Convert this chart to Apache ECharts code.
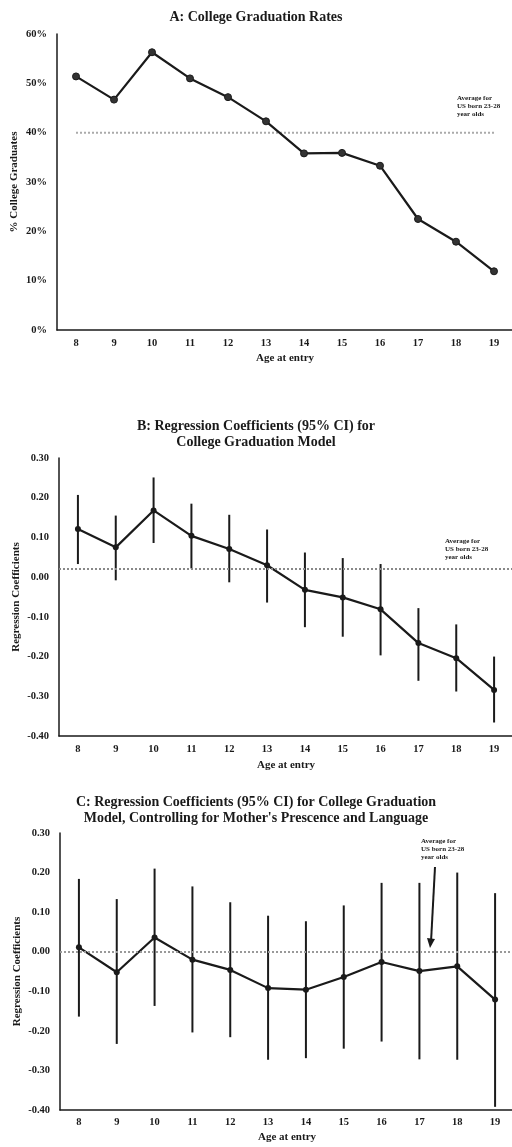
<!DOCTYPE html>
<html>
<head>
<meta charset="utf-8">
<script src="https://cdn.jsdelivr.net/npm/echarts@6/dist/echarts.min.js"></script>
<style>
    html, body { margin: 0; padding: 0; background: #fff; }
    #main { width: 512px; height: 1147px; }
</style>
</head>
<body>
<div id="main"></div>
<script>
    // data
    var ages = ['8', '9', '10', '11', '12', '13', '14', '15', '16', '17', '18', '19'];

    // A: graduation rates (%)
    var gradRate = [51.4, 46.7, 56.3, 51.0, 47.2, 42.3, 35.8, 35.9, 33.3, 22.5, 17.9, 11.9];
    var avgA = [40, 40, 40, 40, 40, 40, 40, 40, 40, 40, 40, 40];

    // B: regression coefficients with 95% CI
    var coefB = [0.121, 0.075, 0.168, 0.104, 0.071, 0.030, -0.032, -0.051, -0.081, -0.166, -0.204, -0.284];
    var lowB  = [0.033, -0.008, 0.086, 0.022, -0.013, -0.064, -0.126, -0.150, -0.197, -0.261, -0.288, -0.366];
    var highB = [0.207, 0.155, 0.251, 0.185, 0.157, 0.120, 0.062, 0.048, 0.033, -0.078, -0.119, -0.200];
    var avgB = 0.023;

    // C: controlling for mother's presence and language
    var coefC = [0.011, -0.052, 0.036, -0.020, -0.046, -0.092, -0.096, -0.064, -0.026, -0.049, -0.037, -0.121];
    var lowC  = [-0.164, -0.233, -0.137, -0.204, -0.216, -0.273, -0.269, -0.245, -0.227, -0.272, -0.273, -0.392];
    var highC = [0.184, 0.133, 0.210, 0.165, 0.125, 0.091, 0.077, 0.117, 0.174, 0.174, 0.200, 0.148];
    var avgC = -0.002;

    var font = 'Liberation Serif';
    var ink = '#1a1a1a';

    function ciData(lo, hi) {
        return ages.map(function (a, i) { return [i, lo[i], hi[i]]; });
    }

    function errorBar(params, api) {
        var p1 = api.coord([api.value(0), api.value(1)]);
        var p2 = api.coord([api.value(0), api.value(2)]);
        return {
            type: 'line',
            shape: { x1: p1[0], y1: p1[1], x2: p2[0], y2: p2[1] },
            style: { stroke: ink, lineWidth: 2 }
        };
    }

    function xAx(idx, margin, gap) {
        return {
            gridIndex: idx,
            type: 'category',
            data: ages,
            name: 'Age at entry',
            nameLocation: 'middle',
            nameGap: gap,
            nameMoveOverlap: false,
            nameTextStyle: { fontFamily: font, fontWeight: 'bold', fontSize: 11, color: ink },
            axisLine: { onZero: false, lineStyle: { color: ink, width: 1.5 } },
            axisTick: { show: false },
            axisLabel: { margin: margin, fontFamily: font, fontWeight: 'bold', fontSize: 10.5, color: ink },
            splitLine: { show: false }
        };
    }

    function yAx(idx, name, min, max, interval, fmt) {
        return {
            gridIndex: idx,
            type: 'value',
            min: min,
            max: max,
            interval: interval,
            name: name,
            nameLocation: 'middle',
            nameRotate: 90,
            nameGap: 37,
            nameMoveOverlap: false,
            nameTextStyle: { fontFamily: font, fontWeight: 'bold', fontSize: 11, color: ink },
            axisLine: { show: true, lineStyle: { color: ink, width: 1.5 } },
            axisTick: { show: false },
            axisLabel: { margin: 10, fontFamily: font, fontWeight: 'bold', fontSize: 10.5, color: ink, formatter: fmt },
            splitLine: { show: false }
        };
    }

    function fmtCoef(v) { return v.toFixed(2); }

    var avgText = 'Average for\nUS born 23-28\nyear olds';
    var noteStyle = { fontFamily: font, fontWeight: 'bold', fontSize: 7, lineHeight: 8, fill: ink };

    var myChart = echarts.init(document.getElementById('main'));

    var option = {
        backgroundColor: '#fff',
        animation: false,
        title: [
            {
                text: 'A: College Graduation Rates',
                left: 'center', top: 5,
                textStyle: { fontFamily: font, fontWeight: 'bold', fontSize: 14, color: ink }
            },
            {
                text: 'B: Regression Coefficients (95% CI) for\nCollege Graduation Model',
                left: 'center', top: 413,
                textStyle: { fontFamily: font, fontWeight: 'bold', fontSize: 14, lineHeight: 16, color: ink }
            },
            {
                text: 'C: Regression Coefficients (95% CI) for College Graduation\nModel, Controlling for Mother\'s Prescence and Language',
                left: 'center', top: 789,
                textStyle: { fontFamily: font, fontWeight: 'bold', fontSize: 14, lineHeight: 16, color: ink }
            }
        ],
        grid: [
            { left: 57, top: 34, width: 456, height: 296, outerBoundsMode: 'none' },
            { left: 59, top: 458, width: 454, height: 278, outerBoundsMode: 'none' },
            { left: 60, top: 833, width: 454, height: 277, outerBoundsMode: 'none' }
        ],
        xAxis: [xAx(0, 8, 23), xAx(1, 8, 24), xAx(2, 7, 22)],
        yAxis: [
            yAx(0, '% College Graduates', 0, 60, 10, '{value}%'),
            yAx(1, 'Regression Coefficients', -0.4, 0.3, 0.1, fmtCoef),
            yAx(2, 'Regression Coefficients', -0.4, 0.3, 0.1, fmtCoef)
        ],
        series: [
            {
                type: 'line', xAxisIndex: 0, yAxisIndex: 0,
                data: avgA, symbol: 'none', silent: true,
                lineStyle: { color: '#aaa', width: 2, type: [2, 2] }
            },
            {
                type: 'line', xAxisIndex: 0, yAxisIndex: 0,
                data: gradRate, symbol: 'circle', symbolSize: 7,
                itemStyle: { color: '#333', borderColor: ink, borderWidth: 1 },
                lineStyle: { color: ink, width: 2.2 }
            },
            {
                type: 'custom', xAxisIndex: 1, yAxisIndex: 1,
                data: ciData(lowB, highB), renderItem: errorBar, z: 3
            },
            {
                type: 'line', xAxisIndex: 1, yAxisIndex: 1,
                data: coefB, symbol: 'circle', symbolSize: 6,
                itemStyle: { color: ink },
                lineStyle: { color: ink, width: 2.2 },
                markLine: {
                    silent: true, symbol: 'none', label: { show: false },
                    lineStyle: { color: '#888', width: 2, type: [2, 2] },
                    data: [{ yAxis: avgB }]
                }
            },
            {
                type: 'custom', xAxisIndex: 2, yAxisIndex: 2,
                data: ciData(lowC, highC), renderItem: errorBar, z: 3
            },
            {
                type: 'line', xAxisIndex: 2, yAxisIndex: 2,
                data: coefC, symbol: 'circle', symbolSize: 6,
                itemStyle: { color: ink },
                lineStyle: { color: ink, width: 2.2 },
                markLine: {
                    silent: true, symbol: 'none', label: { show: false },
                    lineStyle: { color: '#999', width: 2, type: [2, 2] },
                    data: [{ yAxis: avgC }]
                }
            }
        ],
        graphic: [
            { type: 'text', left: 457, top: 94, style: Object.assign({ text: avgText }, noteStyle) },
            { type: 'text', left: 445, top: 537, style: Object.assign({ text: avgText }, noteStyle) },
            { type: 'text', left: 421, top: 837, style: Object.assign({ text: avgText }, noteStyle) },
            {
                type: 'line',
                shape: { x1: 435, y1: 867, x2: 431, y2: 942 },
                style: { stroke: ink, lineWidth: 2 }
            },
            {
                type: 'polygon',
                shape: { points: [[427, 938], [435, 939], [430, 948]] },
                style: { fill: ink }
            }
        ]
    };

    myChart.setOption(option);
</script>
</body>
</html>
